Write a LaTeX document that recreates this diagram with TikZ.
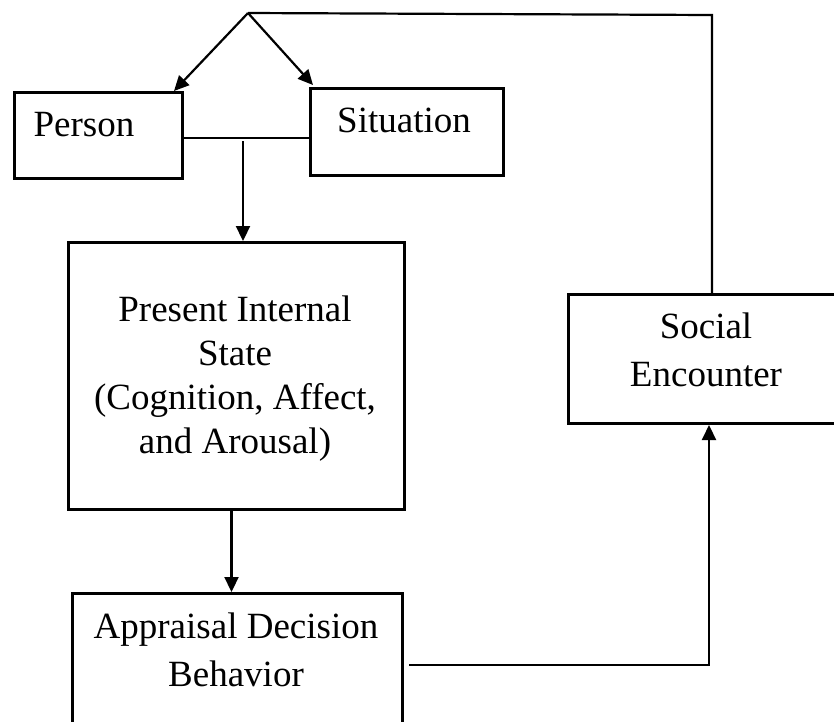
\documentclass[tikz,border=0pt]{standalone}
\usepackage{fontspec}
\setmainfont{Liberation Serif}
\usetikzlibrary{arrows.meta}
\begin{document}
\begin{tikzpicture}[x=1pt,y=-1pt,
  box/.style={draw, line width=3pt, rectangle, inner sep=0pt, anchor=north west},
  conn/.style={line width=2.2pt},
  arr/.style={conn, -{Triangle[length=15pt,width=14pt]}},
  lbl/.style={font=\fontsize{37}{48}\selectfont, align=center, inner sep=0pt}]
\clip (0,0) rectangle (834,721);
\fill[white] (0,0) rectangle (834,721);
% boxes
\node[box, minimum width=168pt, minimum height=86pt] (person) at (13,91) {};
\node[box, minimum width=193pt, minimum height=87pt] (situation) at (309,87) {};
\node[box, minimum width=336pt, minimum height=267pt] (present) at (67,241) {};
\node[box, minimum width=330pt, minimum height=170pt] (appraisal) at (71,592) {};
\node[box, minimum width=290pt, minimum height=129pt] (social) at (567,293) {};
% texts
\node[lbl, anchor=base] (tperson) at (84,136) {Person};
\node[lbl, anchor=base] (tsit) at (404,132) {Situation};
\node[lbl, font=\fontsize{37}{44}\selectfont] (tpres) at (235,379) {Present Internal\\State\\(Cognition, Affect,\\and Arousal)};
\node[lbl] (tsoc) at (706,350) {Social\\Encounter};
\node[lbl] (tapp) at (236,650) {Appraisal Decision\\Behavior};
% connectors
\coordinate (apex) at (248,13);
\coordinate (tr) at (712,15);
\draw[arr] (apex) -- ([xshift=-10pt]person.north east);
\draw[arr] (apex) -- ([xshift=4pt,yshift=2pt]situation.north west);
\draw[conn] (apex) -- (tr) -- (tr |- social.north);
\coordinate (mid) at (243,138);
\draw[conn] (person.east |- mid) -- (situation.west |- mid);
\draw[arr] ([yshift=-3pt]mid) -- (mid |- present.north);
\draw[arr] ([xshift=-5pt]present.south) -- ([xshift=-5pt]present.south |- appraisal.north);
\coordinate (bc) at (709,665);
\draw[arr] ([xshift=5pt]appraisal.east |- bc) -- (bc) -- (bc |- social.south);
\end{tikzpicture}
\end{document}
